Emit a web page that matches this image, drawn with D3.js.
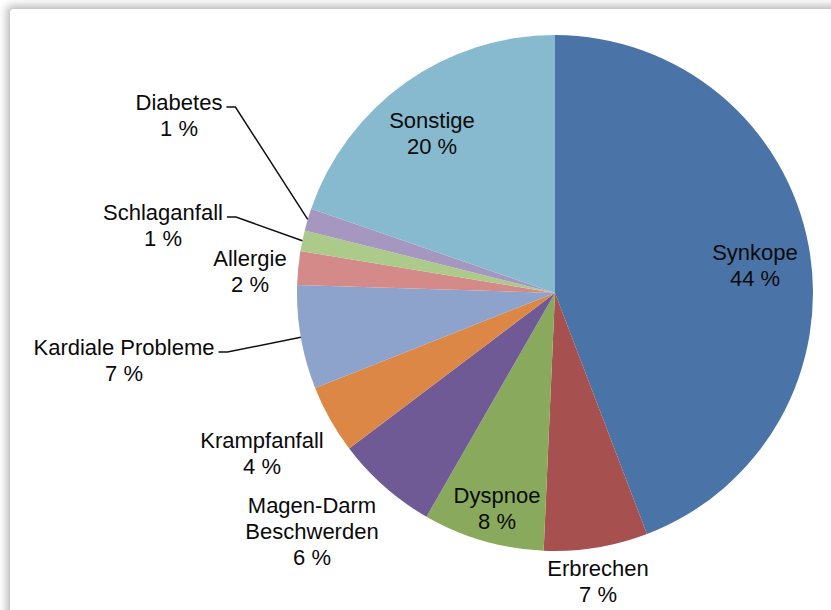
<!DOCTYPE html>
<meta charset="utf-8">
<script src="https://d3js.org/d3.v7.min.js"></script>
<style>
  body { margin: 0; background: #ffffff; overflow: hidden; }
  #frame {
    position: absolute; left: 10px; top: 9px; width: 840px; height: 620px;
    background: #ffffff;
    border-top-left-radius: 4px;
    box-shadow: -3px -3px 10px rgba(0,0,0,0.3);
  }
  .lbl { font-family: "Liberation Sans", Arial, sans-serif; font-size: 22px; fill: #0a0a0a; }
</style>
<div id="frame"></div>
<div id="chart" style="position:absolute;left:0;top:0;"></div>
<script>
// slices, clockwise from 12 o'clock
var categories = ["Synkope", "Erbrechen", "Dyspnoe", "Magen-Darm Beschwerden", "Krampfanfall",
                  "Kardiale Probleme", "Allergie", "Schlaganfall", "Diabetes", "Sonstige"];
var values = [44.2, 6.5, 7.6, 6.4, 4.3, 6.5, 2.1, 1.3, 1.4, 19.7];
var pctLabels = ["44 %", "7 %", "8 %", "6 %", "4 %", "7 %", "2 %", "1 %", "1 %", "20 %"];
var colors = ["#4a74a7", "#a75050", "#89aa5c", "#6f5a96", "#dd8746",
              "#8ea3cc", "#d58a8a", "#accb8b", "#a597c0", "#87bace"];

// label layout: centre x, centre y of first line, leader line or not
var labelLayout = [
  { x: 755, y: 252 }, { x: 598, y: 568 }, { x: 497, y: 495 },
  { x: 312, y: 505 }, { x: 262, y: 440 }, { x: 124, y: 347, leader: true },
  { x: 250, y: 258 }, { x: 163, y: 212, leader: true }, { x: 179, y: 102, leader: true },
  { x: 432, y: 120 }
];

var width = 831, height = 610;
var cx = 555, cy = 293, radius = 258;

var svg = d3.select("#chart").append("svg")
  .attr("width", width).attr("height", height);

var pie = d3.pie().sort(null).value(function(d) { return d; });
var arcs = pie(values);
var arc = d3.arc().innerRadius(0).outerRadius(radius);
var edge = d3.arc().innerRadius(radius).outerRadius(radius);

var g = svg.append("g").attr("transform", "translate(" + cx + "," + cy + ")");
g.selectAll("path").data(arcs).enter().append("path")
  .attr("d", arc)
  .attr("fill", function(d, i) { return colors[i]; });

var labels = svg.append("g");
categories.forEach(function(c, i) {
  var lines = c.split(" ").concat([pctLabels[i]]);
  if (i !== 3) lines = [c, pctLabels[i]];
  var pos = labelLayout[i];
  var t = labels.append("text").attr("class", "lbl").attr("text-anchor", "middle");
  lines.forEach(function(s, k) {
    t.append("tspan").attr("x", pos.x).attr("y", pos.y + k * 26)
      .attr("dominant-baseline", "central").text(s);
  });
  if (pos.leader) {
    var first = t.select("tspan").node().getComputedTextLength();
    var x0 = pos.x + first / 2 + 4, y0 = pos.y + 5;
    var p = edge.centroid(arcs[i]);
    svg.append("path")
      .attr("d", d3.line()([[x0, y0], [x0 + 9, y0], [cx + p[0], cy + p[1]]]))
      .attr("fill", "none").attr("stroke", "#111").attr("stroke-width", 1.5);
  }
});
</script>
